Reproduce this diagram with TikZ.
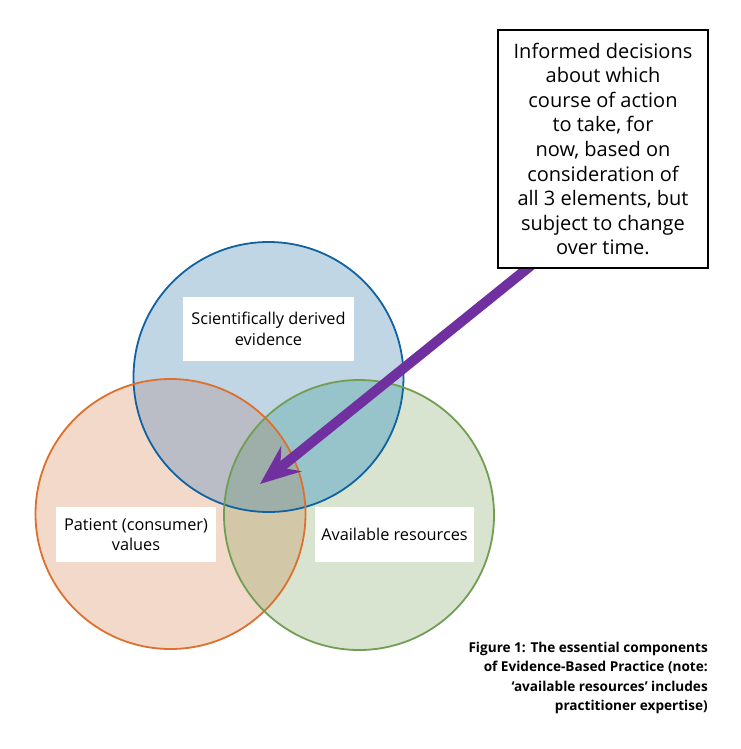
\documentclass[tikz,border=0pt]{standalone}
\usepackage{fontspec}
\setmainfont{Open Sans}
\usetikzlibrary{arrows.meta}
\definecolor{bluefill}{RGB}{192,214,228}
\definecolor{orangefill}{RGB}{243,217,202}
\definecolor{greenfill}{RGB}{216,228,207}
\definecolor{bofill}{RGB}{186,188,198}
\definecolor{bgfill}{RGB}{150,196,202}
\definecolor{ogfill}{RGB}{210,200,168}
\definecolor{bogfill}{RGB}{158,174,168}
\definecolor{blueline}{RGB}{16,98,160}
\definecolor{orangeline}{RGB}{222,112,45}
\definecolor{greenline}{RGB}{112,158,82}
\definecolor{arrowpurple}{RGB}{112,48,160}
\tikzset{
  venn/.style={circle, minimum size=270pt, inner sep=0pt},
  ring/.style={line width=1.8pt},
  lbl/.style={fill=white, align=center, inner sep=0pt, font=\fontsize{16.3}{20.5}\selectfont},
  decbox/.style={draw=black, line width=1.5pt, fill=white, align=center, inner sep=0pt,
    minimum width=210pt, minimum height=238pt, font=\fontsize{20}{24.6}\selectfont},
  bigarrow/.style={draw=arrowpurple, line width=10pt,
    -{Stealth[length=40pt,width=32pt,inset=14pt]}},
  caption/.style={align=right, inner sep=0pt, font=\bfseries\fontsize{13.6}{19.3}\selectfont}
}
\begin{document}
\begin{tikzpicture}[x=1pt,y=-1pt]
\useasboundingbox (0,0) rectangle (740,749);
\fill[white] (0,0) rectangle (740,749);
% single-set fills
\node[venn, fill=bluefill] (sci) at (268.5,377) {};
\node[venn, fill=orangefill] (pat) at (170.5,514) {};
\node[venn, fill=greenfill] (res) at (359,515) {};
% pairwise overlaps
\begin{scope}
  \clip (sci.center) circle[radius=135pt];
  \fill[bofill] (pat.center) circle[radius=135pt];
  \fill[bgfill] (res.center) circle[radius=135pt];
\end{scope}
\begin{scope}
  \clip (pat.center) circle[radius=135pt];
  \fill[ogfill] (res.center) circle[radius=135pt];
\end{scope}
% triple overlap
\begin{scope}
  \clip (sci.center) circle[radius=135pt];
  \clip (pat.center) circle[radius=135pt];
  \fill[bogfill] (res.center) circle[radius=135pt];
\end{scope}
% outlines
\draw[ring, blueline] (sci.center) circle[radius=135pt];
\draw[ring, orangeline] (pat.center) circle[radius=135pt];
\draw[ring, greenline] (res.center) circle[radius=135pt];
% labels
\node[lbl, minimum width=171pt, minimum height=64pt] (scilbl) at (268.5,329) {Scientifically derived\\evidence};
\node[lbl, minimum width=160pt, minimum height=55pt] (patlbl) at (136,534.5) {Patient (consumer)\\values};
\node[lbl, minimum width=159pt, minimum height=55pt] (reslbl) at (394.5,534.5) {Available resources};
% arrow
\coordinate (src) at (575,230);
\coordinate (tip) at (260,484);
\draw[bigarrow] (src) -- (tip);
\node[decbox] (dec) at (603,149) {Informed decisions\\about which\\course of action\\to take, for\\now, based on\\consideration of\\all 3 elements, but\\subject to change\\over time.};
\node[caption, anchor=north east] (cap) at (708,642) {Figure 1: The essential components\\of Evidence-Based Practice (note:\\‘available resources’ includes\\practitioner expertise)};
\end{tikzpicture}
\end{document}
